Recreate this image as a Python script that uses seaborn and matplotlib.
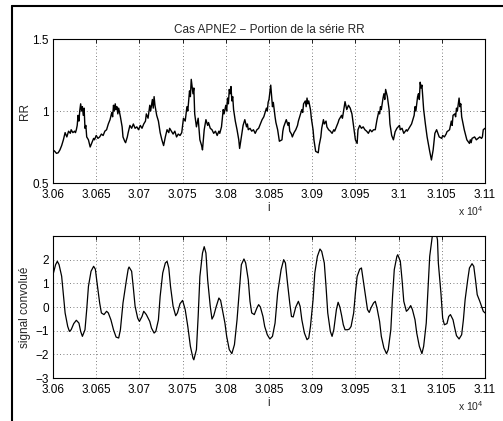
import matplotlib
matplotlib.use("Agg")
import numpy as np
import pandas as pd
import matplotlib.pyplot as plt
import seaborn as sns
from matplotlib.lines import Line2D

# --- donnees (indice relatif a 30600) ---
i0 = 30600

rr_idx = [0, 2, 4, 6, 8, 10, 12, 14, 16, 18, 20, 21, 23, 25, 26, 27, 28, 29, 30, 31,
          32, 33, 34, 35, 36, 37, 38, 39, 41, 43, 45, 47, 48, 50, 52, 54, 56, 58, 60, 62,
          64, 66, 68, 69, 70, 71, 72, 73, 74, 75, 76, 78, 80, 81, 83, 84, 86, 87, 89, 91,
          93, 95, 97, 99, 101, 103, 105, 107, 108, 110, 112, 113, 115, 116, 117, 118, 120, 122, 124, 126,
          128, 130, 132, 134, 135, 137, 139, 141, 143, 145, 147, 149, 151, 153, 155, 156, 158, 159, 160, 162,
          163, 164, 166, 168, 170, 172, 173, 175, 177, 179, 180, 182, 184, 186, 188, 190, 192, 193, 195, 197,
          198, 200, 201, 202, 203, 204, 205, 206, 207, 208, 209, 211, 213, 215, 216, 218, 220, 222, 224, 225,
          226, 228, 230, 232, 234, 236, 238, 240, 242, 244, 245, 247, 248, 249, 250, 252, 253, 254, 255, 257,
          258, 260, 262, 265, 266, 267, 270, 272, 273, 274, 276, 277, 279, 281, 283, 284, 286, 288, 289, 290,
          292, 293, 294, 295, 296, 298, 299, 301, 302, 304, 307, 308, 310, 311, 313, 314, 316, 317, 319, 321,
          323, 325, 326, 328, 330, 331, 334, 335, 336, 338, 340, 342, 344, 346, 348, 350, 352, 353, 355, 357,
          359, 361, 363, 365, 367, 369, 371, 373, 375, 377, 378, 379, 380, 382, 383, 384, 385, 387, 389, 390,
          392, 394, 396, 398, 401, 402, 404, 406, 409, 410, 412, 414, 415, 418, 419, 420, 422, 423, 424, 425,
          426, 427, 428, 429, 431, 433, 436, 438, 440, 442, 444, 447, 450, 451, 453, 455, 456, 459, 461, 462,
          463, 465, 466, 467, 468, 470, 471, 472, 473, 476, 479, 482, 483, 484, 485, 488, 490, 492, 494, 496,
          497, 498, 500]
rr_val = [0.73, 0.72, 0.706, 0.71, 0.73, 0.76, 0.80, 0.85, 0.82, 0.86, 0.845, 0.87, 0.85, 0.86, 0.85, 0.87, 0.90, 0.97, 0.93, 1.005,
          1.05, 1.00, 1.03, 0.97, 1.02, 0.88, 0.90, 0.82, 0.80, 0.75, 0.78, 0.81, 0.80, 0.83, 0.81, 0.82, 0.84, 0.83, 0.86, 0.87,
          0.91, 0.94, 0.99, 0.96, 1.04, 1.00, 1.05, 1.01, 1.03, 0.98, 1.02, 0.96, 0.89, 0.82, 0.79, 0.78, 0.82, 0.85, 0.90, 0.88,
          0.91, 0.88, 0.89, 0.87, 0.90, 0.88, 0.91, 0.93, 0.98, 0.95, 1.04, 1.00, 1.08, 1.02, 1.10, 1.04, 0.97, 0.93, 0.85, 0.80,
          0.76, 0.82, 0.87, 0.85, 0.88, 0.86, 0.84, 0.86, 0.82, 0.84, 0.83, 0.85, 0.95, 0.93, 1.03, 1.00, 1.14, 1.10, 1.22, 1.12,
          1.16, 0.98, 0.89, 0.95, 0.80, 0.76, 0.73, 0.87, 0.94, 0.90, 0.92, 0.88, 0.87, 0.845, 0.86, 0.83, 0.86, 0.845, 0.89, 1.01,
          0.98, 1.04, 1.00, 1.09, 1.05, 1.15, 1.12, 1.17, 1.07, 1.10, 1.01, 0.93, 0.87, 0.80, 0.74, 0.82, 0.90, 0.94, 0.89, 0.91,
          0.87, 0.88, 0.86, 0.87, 0.845, 0.87, 0.88, 0.91, 0.94, 0.96, 0.98, 1.02, 1.00, 1.06, 1.08, 1.18, 1.10, 1.03, 1.06, 0.96,
          0.92, 0.87, 0.79, 0.80, 0.86, 0.89, 0.94, 0.90, 0.92, 0.86, 0.84, 0.82, 0.85, 0.87, 0.90, 0.93, 0.97, 1.01, 0.99, 1.05,
          1.07, 1.03, 1.09, 1.05, 1.07, 1.01, 0.95, 0.87, 0.80, 0.72, 0.71, 0.76, 0.82, 0.88, 0.94, 0.91, 0.93, 0.89, 0.87, 0.86,
          0.845, 0.87, 0.86, 0.89, 0.92, 0.94, 0.97, 0.95, 0.99, 1.065, 1.01, 1.04, 1.02, 0.98, 0.89, 0.80, 0.775, 0.87, 0.90, 0.88,
          0.89, 0.87, 0.86, 0.845, 0.87, 0.856, 0.87, 0.87, 0.94, 0.995, 0.98, 1.03, 1.01, 1.09, 1.12, 1.08, 1.15, 1.10, 1.01, 0.91,
          0.83, 0.80, 0.856, 0.88, 0.90, 0.87, 0.88, 0.845, 0.87, 0.86, 0.88, 0.90, 0.91, 0.97, 1.03, 1.00, 1.10, 1.12, 1.08, 1.20,
          1.16, 1.18, 1.10, 1.01, 0.91, 0.82, 0.72, 0.66, 0.73, 0.845, 0.87, 0.82, 0.81, 0.83, 0.82, 0.84, 0.856, 0.87, 0.93, 0.90,
          0.97, 0.98, 0.96, 1.02, 1.00, 1.09, 1.03, 1.05, 0.96, 0.87, 0.80, 0.775, 0.80, 0.78, 0.81, 0.82, 0.80, 0.81, 0.82, 0.81,
          0.82, 0.87, 0.88]

conv_idx = [0, 3, 5, 7, 10, 12, 14, 17, 19, 21, 24, 27, 30, 32, 34, 37, 39, 41, 44, 47,
            49, 51, 54, 56, 59, 62, 64, 67, 70, 73, 76, 78, 81, 85, 87, 88, 91, 93, 95, 98,
            100, 103, 105, 108, 112, 114, 117, 119, 122, 124, 127, 130, 132, 134, 136, 139, 142, 144, 147, 150,
            153, 156, 159, 162, 163, 166, 168, 170, 173, 175, 177, 179, 182, 184, 186, 189, 192, 194, 196, 199,
            201, 204, 207, 210, 213, 216, 218, 221, 223, 226, 228, 230, 233, 236, 238, 240, 243, 245, 248, 251,
            254, 257, 260, 264, 267, 269, 271, 274, 276, 278, 281, 284, 286, 288, 291, 294, 296, 298, 301, 303,
            306, 309, 311, 314, 316, 318, 321, 323, 325, 328, 330, 332, 334, 336, 338, 341, 343, 345, 348, 350,
            352, 355, 357, 359, 362, 364, 366, 368, 371, 373, 375, 378, 380, 383, 386, 388, 391, 393, 395, 398,
            399, 402, 404, 406, 409, 411, 414, 416, 419, 421, 424, 427, 429, 432, 434, 436, 439, 440, 443, 445,
            446, 449, 451, 453, 456, 458, 460, 463, 465, 467, 470, 473, 475, 477, 480, 482, 485, 487, 489, 491,
            494, 496, 498, 500]
conv_val = [1.37, 1.79, 1.93, 1.79, 1.30, 0.52, -0.25, -0.82, -1.03, -0.96, -0.70, -0.56, -0.68, -1.03, -1.24, -0.96, -0.11, 0.87, 1.51, 1.72,
            1.60, 1.01, 0.17, -0.25, -0.32, -0.18, -0.25, -0.54, -0.96, -1.27, -1.31, -0.96, 0.17, 1.15, 1.60, 1.69, 1.51, 0.80, 0.03, -0.47,
            -0.61, -0.40, -0.18, -0.32, -0.61, -0.89, -1.10, -1.03, -0.54, 0.45, 1.44, 1.86, 1.93, 1.65, 0.87, 0.03, -0.37, -0.25, 0.14, 0.28,
            -0.11, -0.82, -1.66, -2.16, -2.23, -1.80, -0.40, 1.29, 2.28, 2.55, 2.28, 1.15, 0.03, -0.51, -0.37, 0.03, 0.38, 0.28, -0.11, -0.68,
            -1.24, -1.80, -1.97, -1.59, -0.54, 0.87, 1.79, 2.03, 1.86, 1.15, 0.24, -0.25, -0.32, -0.04, 0.10, 0.00, -0.40, -0.82, -1.17, -1.35,
            -1.24, -0.68, 0.59, 1.58, 2.00, 1.86, 1.15, 0.17, -0.40, -0.42, 0.00, 0.24, 0.03, -0.54, -1.10, -1.38, -1.31, -0.82, 0.31, 1.44,
            2.14, 2.45, 2.35, 1.86, 0.87, -0.25, -1.03, -1.24, -0.96, -0.11, 0.20, 0.00, -0.35, -0.75, -0.96, -0.96, -0.93, -0.82, -0.25, 0.59,
            1.29, 1.60, 1.65, 1.15, 0.38, -0.11, -0.23, -0.04, 0.17, 0.24, -0.04, -0.61, -1.24, -1.73, -1.97, -1.80, -0.96, 0.45, 1.58, 2.14,
            2.21, 1.93, 1.15, 0.24, -0.18, -0.11, 0.06, -0.11, -0.54, -1.10, -1.66, -1.97, -1.66, -0.68, 0.73, 2.14, 2.99, 3.2, 3.2, 2.84,
            1.86, 0.59, -0.47, -0.75, -0.70, -0.40, -0.32, -0.54, -0.89, -1.21, -1.35, -1.17, -0.54, 0.31, 1.15, 1.65, 1.83, 1.72, 1.15, 0.52,
            0.24, 0.03, -0.18, -0.25]

xtick_labels = ["3.06", "3.065", "3.07", "3.075", "3.08", "3.085", "3.09", "3.095", "3.1", "3.105", "3.11"]

rr = pd.DataFrame({"i": np.array(rr_idx) + i0, "RR": rr_val})
conv = pd.DataFrame({"i": np.array(conv_idx) + i0, "conv": conv_val})

sns.set_style("white")
plt.rcParams["font.family"] = ["Liberation Sans", "DejaVu Sans"]
plt.rcParams["mathtext.default"] = "regular"
fs = 8.5

fig = plt.figure(figsize=(5.03, 4.21), dpi=100)
ax1 = fig.add_axes([0.1054, 0.5653, 0.8588, 0.3420])
ax2 = fig.add_axes([0.1054, 0.1021, 0.8588, 0.3373])

sns.lineplot(data=rr, x="i", y="RR", ax=ax1, color="black", linewidth=1.0,
             estimator=None, sort=False)
sns.lineplot(data=conv, x="i", y="conv", ax=ax2, color="black", linewidth=0.9,
             estimator=None, sort=False)

xticks = np.arange(30600, 31101, 50)
for ax in (ax1, ax2):
    ax.set_xlim(30600, 31100)
    ax.set_xticks(xticks)
    ax.set_xticklabels(xtick_labels)
    ax.grid(True, linestyle=(0, (1, 3)), color="#555555", linewidth=0.6)
    ax.tick_params(direction="in", top=True, right=True, length=3, width=0.6,
                   labelsize=fs, colors="black")
    ax.tick_params(axis="x", pad=4)
    ax.tick_params(axis="y", pad=3)
    for s in ax.spines.values():
        s.set_color("black")
        s.set_linewidth(0.8)
    ax.set_xlabel("i", fontsize=fs, labelpad=1)
    ax.yaxis.set_label_coords(-0.052, 0.5)

ax1.set_ylim(0.5, 1.5)
ax1.set_yticks([0.5, 1, 1.5])
ax1.set_yticklabels(["0.5", "1", "1.5"])
ax1.set_ylabel("RR", fontsize=fs)
ax1.set_title("Cas APNE2 \u2212 Portion de la série RR", fontsize=fs, pad=4)

ax2.set_ylim(-3, 3)
ax2.set_yticks([-3, -2, -1, 0, 1, 2])
ax2.set_yticklabels(["\u22123", "\u22122", "\u22121", "0", "1", "2"])
ax2.set_ylabel("signal convolué", fontsize=fs)

fig.text(458 / 503, 1 - 211 / 421, r"x 10$^4$", fontsize=7.5, va="center")
fig.text(458 / 503, 1 - 406 / 421, r"x 10$^4$", fontsize=7.5, va="center")

# cadre de la figure
fig.add_artist(Line2D([12 / 503, 12 / 503], [0, 1 - 6 / 421], transform=fig.transFigure,
                      color="black", linewidth=1.5))
fig.add_artist(Line2D([12 / 503, 1], [1 - 6 / 421, 1 - 6 / 421], transform=fig.transFigure,
                      color="black", linewidth=1.5))

fig.savefig("out.png", dpi=100)
